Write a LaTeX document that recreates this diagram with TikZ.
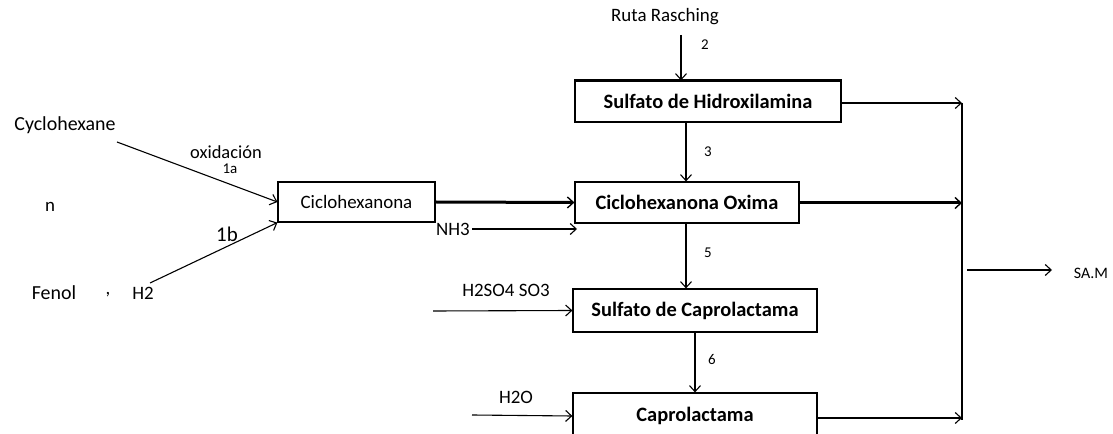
\documentclass[tikz,border=0pt]{standalone}
\usepackage{fontspec}
\setmainfont{Carlito}
\usetikzlibrary{arrows.meta}
\begin{document}
\begin{tikzpicture}[x=1bp,y=-1bp,
  proc/.style={draw,line width=1.2bp,inner sep=0pt,font=\fontsize{20.5}{22}\selectfont\bfseries},
  lbl/.style={inner sep=0pt,font=\fontsize{19}{21}\selectfont},
  num/.style={inner sep=0pt,font=\fontsize{15}{17}\selectfont},
  arr/.style={line width=1.1bp,-{Straight Barb[length=6bp,width=11bp,line width=1.1bp]}},
  thk/.style={line width=3bp,-{Straight Barb[length=6bp,width=11bp,line width=1.4bp]}}]
\useasboundingbox (0,0) rectangle (1113,434);
\clip (0,0) rectangle (1113,434);
% boxes
\node[proc,minimum width=266bp,minimum height=41bp] (hidrox) at (708,101.5) {Sulfato de Hidroxilamina};
\draw[line width=3bp] (hidrox.north west) -- (hidrox.north east);
\node[proc,minimum width=224bp,minimum height=41bp] (oxima) at (687,202.5) {Ciclohexanona Oxima};
\node[proc,minimum width=244bp,minimum height=43bp] (sulfcap) at (695,310.5) {Sulfato de Caprolactama};
\node[proc,minimum width=244bp,minimum height=46bp] (capro) at (695,416) {Caprolactama};
\node[proc,font=\fontsize{19}{21}\selectfont,minimum width=157bp,minimum height=40bp] (ciclo) at (356.5,202) {Ciclohexanona};
% texts
\node[lbl] (raschig) at (665,17) {Ruta Rasching};
\node[lbl,font=\fontsize{20}{22}\selectfont] (cyhex) at (65,125) {Cyclohexane};
\node[lbl,font=\fontsize{18.5}{20}\selectfont] (oxid) at (226,152) {oxidación};
\node[num] (l1a) at (230,169) {1a};
\node[lbl,font=\fontsize{21}{23}\selectfont] (l1b) at (227,234) {1b};
\node[lbl] (nn) at (50,207) {n};
\node[lbl,font=\fontsize{20}{22}\selectfont] (fenol) at (54,293) {Fenol};
\node[lbl] (comma) at (108,295) {,};
\node[lbl] (h2) at (143,293) {H2};
\node[num] (l2) at (705,45) {2};
\node[num] (l3) at (708,152) {3};
\node[num] (l5) at (708,253) {5};
\node[num] (l6) at (712,360) {6};
\node[lbl] (nh3) at (453,229) {NH3};
\node[lbl] (h2so4) at (506,290) {H2SO4 SO3};
\node[lbl] (h2o) at (516,397) {H2O};
\node[lbl,font=\fontsize{16}{18}\selectfont] (sam) at (1091,273) {SA.M};
% coordinates
\coordinate (rs) at (681,35);
\coordinate (cs) at (117,142);
\coordinate (fs) at (150,283);
\coordinate (ns) at (472,229);
\coordinate (ne) at (577,229);
\coordinate (hs) at (433,311);
\coordinate (ws) at (472,415);
\coordinate (c1) at (962,103);
\coordinate (c2) at (962,203);
\coordinate (c3) at (962,418);
\coordinate (c4) at (962,420);
\coordinate (ss) at (967,270);
\coordinate (se) at (1052,270);
% connectors
\draw[arr] (rs) -- (rs |- hidrox.north);
\draw[arr] (hidrox.south -| 686,0) -- (oxima.north -| 686,0);
\draw[arr] (oxima.south -| 686,0) -- (sulfcap.north -| 686,0);
\draw[arr] (sulfcap.south) -- (capro.north);
\draw[arr] (cs) -- (ciclo.west);
\draw[arr] (fs) -- (ciclo.south west);
\draw[thk] (ciclo.east) -- (oxima.west);
\draw[arr] (ns) -- (ne);
\draw[arr] (hs) -- (sulfcap.west);
\draw[arr] (ws) -- (capro.west);
\draw[arr] (hidrox.east |- c1) -- (c1);
\draw[thk] (oxima.east |- c2) -- (c2);
\draw[arr] (capro.east |- c3) -- (c3);
\draw[line width=1.2bp] (c1) -- (c4);
\draw[arr] (ss) -- (se);
\end{tikzpicture}
\end{document}
